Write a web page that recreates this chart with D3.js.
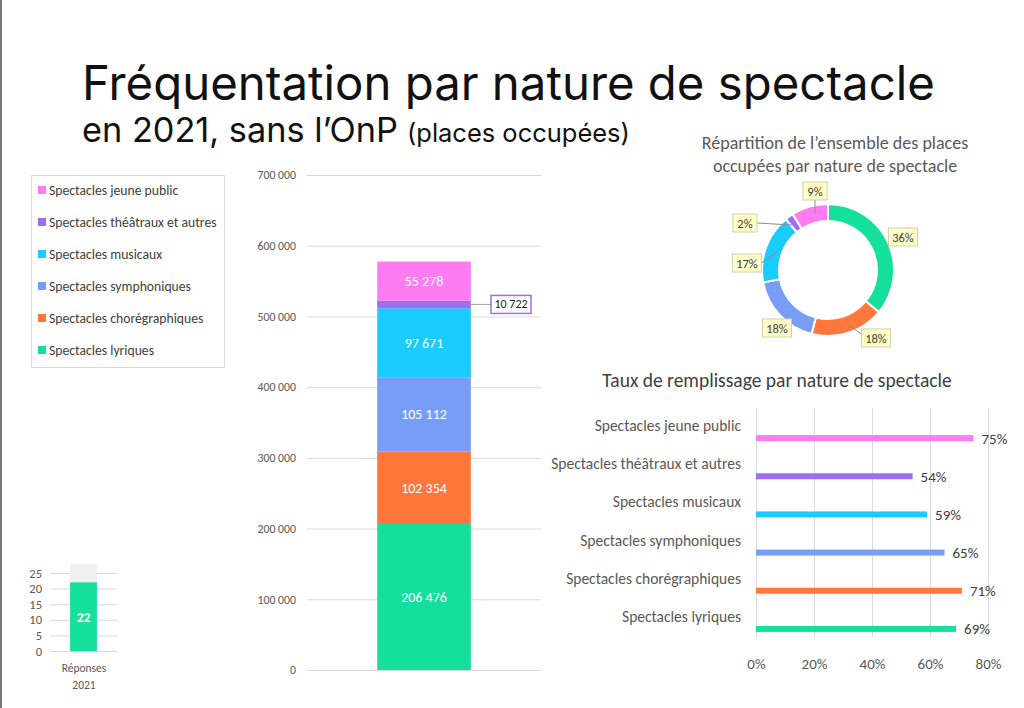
<!DOCTYPE html>
<html><head><meta charset="utf-8">
<script src="https://cdn.jsdelivr.net/npm/d3@7"></script>
<style>
html,body{margin:0;padding:0;background:#fff;}
svg{display:block;}
</style></head>
<body>
<svg id="c" width="1024" height="708"></svg>
<script>
// ---------- DATA ----------
const categories = ["Spectacles lyriques","Spectacles chorégraphiques","Spectacles symphoniques","Spectacles musicaux","Spectacles théâtraux et autres","Spectacles jeune public"];
const colors = ["#14E09C","#FF773A","#789DF8","#1ACBFD","#A06CF2","#FF7BF2"];
const placesOccupees = [206476,102354,105112,97671,10722,55278];
const repartitionPct = [36,18,18,17,2,9];
const tauxRemplissage = [69,71,65,59,54,75];
const stackTicks = [0,100000,200000,300000,400000,500000,600000,700000];
const tauxTicks = [0,20,40,60,80];
const reponsesTicks = [0,5,10,15,20,25];
const reponses = 22;
const reponsesTotal = 28;

const svg = d3.select("#c");
const fr = d3.formatLocale({decimal:",",thousands:"\u202f",grouping:[3],currency:["","€"]});
const fmt = v => fr.format(",")(v).replace(/\u202f/g," ");
const xlFont = "Carlito, Lato, 'Open Sans', sans-serif";

// page border
svg.append("rect").attr("x",0).attr("y",0).attr("width",2).attr("height",708).attr("fill","#777");

// ---------- TITLES ----------
function fitText(sel, target){
  const w = sel.node().getComputedTextLength();
  const fs = parseFloat(sel.attr("font-size"));
  sel.attr("font-size", fs*target/w);
}
const t1 = svg.append("text").attr("x",82).attr("y",100).attr("font-family","Inter, 'Noto Sans', sans-serif")
  .attr("font-size",44).attr("fill","#111").text("Fréquentation par nature de spectacle");
fitText(t1, 853);
const t2 = svg.append("text").attr("x",82).attr("y",142).attr("font-family","Inter, 'Noto Sans', sans-serif")
  .attr("font-size",33).attr("fill","#111").text("en 2021, sans l’OnP");
fitText(t2, 316);
const t3 = svg.append("text").attr("x",407).attr("y",142).attr("font-family","Inter, 'Noto Sans', sans-serif")
  .attr("font-size",25).attr("fill","#111").text("(places occupées)");
fitText(t3, 223);

// ---------- LEGEND ----------
const leg = svg.append("g");
leg.append("rect").attr("x",31.5).attr("y",175.5).attr("width",193).attr("height",192).attr("fill","#fff").attr("stroke","#d9d9d9");
const legOrder = d3.range(categories.length).reverse();
legOrder.forEach((ci,i)=>{
  const y = 190 + i*32;
  leg.append("rect").attr("x",38).attr("y",y-4).attr("width",8).attr("height",8).attr("fill",colors[ci]);
  leg.append("text").attr("x",49).attr("y",y+4.5).attr("font-family",xlFont).attr("font-size",13.7).attr("fill","#404040").text(categories[ci]);
});

// ---------- STACKED BAR ----------
const yS = d3.scaleLinear().domain([0,700000]).range([670,175]);
const gS = svg.append("g");
gS.append("g").attr("transform","translate(307,0)")
  .call(d3.axisLeft(yS).tickValues(stackTicks).tickSize(-234).tickFormat(fmt))
  .call(g=>{g.select(".domain").remove();
    g.selectAll("line").attr("stroke","#d9d9d9");
    g.selectAll("text").attr("x",-11).attr("font-family",xlFont).attr("font-size",11.8).attr("fill","#595959");});
const xS = d3.scaleBand().domain(["2021"]).range([307,541]).paddingInner(0.6).paddingOuter(0.3);
let cum = 0;
const stackData = placesOccupees.map((v,i)=>{const d={i,v,y0:cum,y1:cum+v};cum+=v;return d;});
gS.selectAll("rect.s").data(stackData).join("rect").attr("class","s")
  .attr("x",xS("2021")).attr("width",xS.bandwidth())
  .attr("y",d=>yS(d.y1)).attr("height",d=>yS(d.y0)-yS(d.y1)).attr("fill",d=>colors[d.i]);
gS.selectAll("text.s").data(stackData.filter(d=>d.v>30000)).join("text").attr("class","s")
  .attr("x",xS("2021")+xS.bandwidth()/2).attr("y",d=>yS((d.y0+d.y1)/2)+5)
  .attr("text-anchor","middle").attr("font-family",xlFont).attr("font-size",14).attr("fill","#fff").text(d=>fmt(d.v));
// callout for small segment
const small = stackData[4];
const cy = yS((small.y0+small.y1)/2);
const bx = xS("2021")+xS.bandwidth();
gS.append("line").attr("x1",bx).attr("x2",491).attr("y1",cy).attr("y2",cy).attr("stroke","#a6a6a6");
gS.append("rect").attr("x",491).attr("y",cy-9).attr("width",40).attr("height",18).attr("fill","#fff").attr("stroke",colors[4]).attr("stroke-width",1.5);
gS.append("text").attr("x",511).attr("y",cy+4).attr("text-anchor","middle").attr("font-family",xlFont).attr("font-size",12).attr("fill","#222").text(fmt(small.v));

// ---------- DONUT ----------
const gD = svg.append("g");
gD.append("text").attr("x",835).attr("y",149).attr("text-anchor","middle").attr("font-family",xlFont).attr("font-size",18).attr("fill","#595959").text("Répartition de l’ensemble des places");
gD.append("text").attr("x",835).attr("y",172).attr("text-anchor","middle").attr("font-family",xlFont).attr("font-size",18).attr("fill","#595959").text("occupées par nature de spectacle");
const cx=828, cyD=270;
const pie = d3.pie().sort(null).value(d=>d)(repartitionPct);
const arc = d3.arc().innerRadius(49).outerRadius(66);
const gp = gD.append("g").attr("transform",`translate(${cx},${cyD})`);
gp.selectAll("path").data(pie).join("path").attr("d",arc).attr("fill",(d,i)=>colors[i]).attr("stroke","#fff").attr("stroke-width",2);
const labelPos = [
  {x:903,y:237,lx:null},
  {x:876,y:338,lx:848,ly:325},
  {x:777,y:328,lx:null},
  {x:747,y:263,lx:777,ly:252},
  {x:745,y:223,lx:792,ly:225},
  {x:815,y:191,lx:815,ly:213}
];
pie.forEach((d,i)=>{
  const p = labelPos[i];
  const txt = repartitionPct[i]+"%";
  const w = txt.length>2?29:24;
  if(p.lx!=null){
    let sx, sy;
    if(i===1){sx=p.x-w/2; sy=p.y-4;}
    else if(i===5){sx=p.x; sy=p.y+9;}
    else {sx=p.x+w/2; sy=p.y;}
    gD.append("polyline").attr("points",`${sx},${sy} ${p.lx},${p.ly}`).attr("fill","none").attr("stroke","#8c8c8c");
  }
  gD.append("rect").attr("x",p.x-w/2).attr("y",p.y-9).attr("width",w).attr("height",18).attr("fill","#FFFFC6").attr("stroke","#d0d0b0");
  gD.append("text").attr("x",p.x).attr("y",p.y+4.5).attr("text-anchor","middle").attr("font-family",xlFont).attr("font-size",12.5).attr("fill","#404040").text(txt);
});

// ---------- HORIZONTAL BARS ----------
const gH = svg.append("g");
gH.append("text").attr("x",777).attr("y",387).attr("text-anchor","middle").attr("font-family",xlFont).attr("font-size",19.5).attr("fill","#404040").text("Taux de remplissage par nature de spectacle");
const xH = d3.scaleLinear().domain([0,80]).range([756,988]);
const yH = d3.scaleBand().domain(categories.slice().reverse()).range([408,637]);
gH.append("g").attr("transform","translate(0,637)")
  .call(d3.axisBottom(xH).tickValues(tauxTicks).tickSize(-229).tickFormat(d=>d+"%"))
  .call(g=>{g.select(".domain").remove();
    g.selectAll("line").attr("stroke","#d9d9d9");
    g.selectAll("text").attr("y",21).attr("font-family",xlFont).attr("font-size",15).attr("fill","#595959");});
const hData = categories.map((c,i)=>({c,i,v:tauxRemplissage[i]}));
gH.selectAll("rect.h").data(hData).join("rect").attr("class","h")
  .attr("x",xH(0)).attr("y",d=>yH(d.c)+yH.bandwidth()/2+8).attr("height",6)
  .attr("width",d=>xH(d.v)-xH(0)).attr("fill",d=>colors[d.i]);
gH.selectAll("text.v").data(hData).join("text").attr("class","v")
  .attr("x",d=>xH(d.v)+8).attr("y",d=>yH(d.c)+yH.bandwidth()/2+16.5)
  .attr("font-family",xlFont).attr("font-size",15).attr("fill","#404040").text(d=>d.v+"%");
gH.selectAll("text.c").data(hData).join("text").attr("class","c")
  .attr("x",741).attr("y",d=>yH(d.c)+yH.bandwidth()/2+4)
  .attr("text-anchor","end").attr("font-family",xlFont).attr("font-size",15.5).attr("fill","#595959").text(d=>d.c);

// ---------- SMALL RESPONSES CHART ----------
const gR = svg.append("g");
const yR = d3.scaleLinear().domain([0,25]).range([651,573]);
gR.append("g").attr("transform","translate(50,0)")
  .call(d3.axisLeft(yR).tickValues(reponsesTicks).tickSize(-67))
  .call(g=>{g.select(".domain").remove();
    g.selectAll("line").attr("stroke","#d9d9d9");
    g.selectAll("text").attr("x",-8).attr("font-family",xlFont).attr("font-size",12.5).attr("fill","#595959");});
const xR = d3.scaleBand().domain(["Réponses 2021"]).range([50,117]).paddingInner(0.6).paddingOuter(0.3);
gR.append("rect").attr("x",xR("Réponses 2021")).attr("width",xR.bandwidth()).attr("y",yR(reponsesTotal)).attr("height",yR(0)-yR(reponsesTotal)).attr("fill","#F0F0F0");
gR.append("rect").attr("x",xR("Réponses 2021")).attr("width",xR.bandwidth()).attr("y",yR(reponses)).attr("height",yR(0)-yR(reponses)).attr("fill",colors[0]);
gR.append("text").attr("x",xR("Réponses 2021")+xR.bandwidth()/2).attr("y",yR(reponses/2)+5).attr("text-anchor","middle").attr("font-family",xlFont).attr("font-size",13.5).attr("font-weight","bold").attr("fill","#fff").text(reponses);
gR.append("text").attr("x",84).attr("y",672).attr("text-anchor","middle").attr("font-family",xlFont).attr("font-size",11.5).attr("fill","#595959").text("Réponses");
gR.append("text").attr("x",84).attr("y",689).attr("text-anchor","middle").attr("font-family",xlFont).attr("font-size",11.5).attr("fill","#595959").text("2021");
</script>
</body></html>
